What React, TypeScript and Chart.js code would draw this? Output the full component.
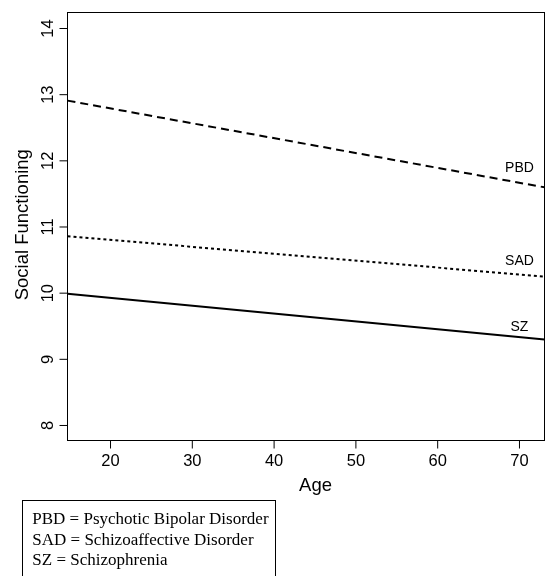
import React, { useEffect, useRef } from "react";
import { Chart, registerables } from "chart.js";

Chart.register(...registerables);

// ---- data ----
const ages = [14.74, 73.06];
const pbdValues = [12.91, 11.6];
const sadValues = [10.86, 10.25];
const szValues = [9.99, 9.3];
const xTicks = [20, 30, 40, 50, 60, 70];
const yTicks = [8, 9, 10, 11, 12, 13, 14];
const groupLabels = ["PBD", "SAD", "SZ"];
const labelAges = [70, 70, 70];
const labelValues = [11.9, 10.5, 9.5];
const legendLines = [
  "PBD = Psychotic Bipolar Disorder",
  "SAD = Schizoaffective Disorder",
  "SZ = Schizophrenia",
];
const xTitle = "Age";
const yTitle = "Social Functioning";

const SANS = '"Liberation Sans", Arial, sans-serif';
const SERIF = '"Liberation Serif", "Times New Roman", serif';

const overlay = {
  id: "overlay",
  afterDraw(chart: any) {
    const ctx: CanvasRenderingContext2D = chart.ctx;
    const { left, right, top, bottom } = chart.chartArea;
    const xs = chart.scales.x;
    const ys = chart.scales.y;
    ctx.save();
    ctx.strokeStyle = "#000";
    ctx.lineWidth = 1;
    ctx.strokeRect(left, top, right - left, bottom - top);

    // tick marks
    ctx.beginPath();
    xTicks.forEach((v) => {
      const px = xs.getPixelForValue(v);
      ctx.moveTo(px, bottom);
      ctx.lineTo(px, bottom + 8);
    });
    yTicks.forEach((v) => {
      const py = ys.getPixelForValue(v);
      ctx.moveTo(left, py);
      ctx.lineTo(left - 8, py);
    });
    ctx.stroke();

    // tick labels
    ctx.fillStyle = "#000";
    ctx.font = `16.5px ${SANS}`;
    ctx.textAlign = "center";
    ctx.textBaseline = "alphabetic";
    xTicks.forEach((v) => {
      ctx.fillText(String(v), xs.getPixelForValue(v), 466);
    });
    yTicks.forEach((v) => {
      ctx.save();
      ctx.translate(52.5, ys.getPixelForValue(v));
      ctx.rotate(-Math.PI / 2);
      ctx.fillText(String(v), 0, 0);
      ctx.restore();
    });

    // axis titles
    ctx.font = `18.5px ${SANS}`;
    ctx.fillText(xTitle, 315.5, 490.5);
    ctx.save();
    ctx.translate(28, 224.7);
    ctx.rotate(-Math.PI / 2);
    ctx.fillText(yTitle, 0, 0);
    ctx.restore();

    // line labels
    ctx.font = `14px ${SANS}`;
    groupLabels.forEach((t, i) => {
      ctx.fillText(t, xs.getPixelForValue(labelAges[i]), ys.getPixelForValue(labelValues[i]) + 5);
    });

    // legend box
    ctx.strokeRect(22.5, 500.5, 253, 120);
    ctx.font = `17px ${SERIF}`;
    ctx.textAlign = "left";
    legendLines.forEach((t, i) => {
      ctx.fillText(t, 32.3, 524.3 + i * 20.5);
    });
    ctx.restore();
  },
};

export default function App() {
  const canvasRef = useRef<HTMLCanvasElement | null>(null);

  useEffect(() => {
    const canvas = canvasRef.current;
    if (!canvas) return;
    const mk = (vals: number[]) => ages.map((a, i) => ({ x: a, y: vals[i] }));
    const chart = new Chart(canvas, {
      type: "line",
      data: {
        datasets: [
          {
            label: "PBD",
            data: mk(pbdValues),
            borderColor: "#000",
            borderWidth: 2,
            borderDash: [8, 5],
            pointRadius: 0,
            fill: false,
          },
          {
            label: "SAD",
            data: mk(sadValues),
            borderColor: "#000",
            borderWidth: 2,
            borderDash: [3, 3],
            pointRadius: 0,
            fill: false,
          },
          {
            label: "SZ",
            data: mk(szValues),
            borderColor: "#000",
            borderWidth: 2,
            pointRadius: 0,
            fill: false,
          },
        ],
      },
      options: {
        animation: false,
        responsive: false,
        devicePixelRatio: 1,
        layout: { padding: { left: 67.5, top: 12.5, right: 1.5, bottom: 135.5 } },
        plugins: { legend: { display: false }, tooltip: { enabled: false } },
        scales: {
          x: { type: "linear", min: ages[0], max: ages[1], display: false },
          y: { type: "linear", min: 7.773, max: 14.242, display: false },
        },
      },
      plugins: [overlay],
    });
    return () => chart.destroy();
  }, []);

  return (
    <div style={{ position: "absolute", left: 0, top: 0, width: 546, height: 576, background: "#fff" }}>
      <canvas ref={canvasRef} width={546} height={576} style={{ display: "block" }} />
    </div>
  );
}
